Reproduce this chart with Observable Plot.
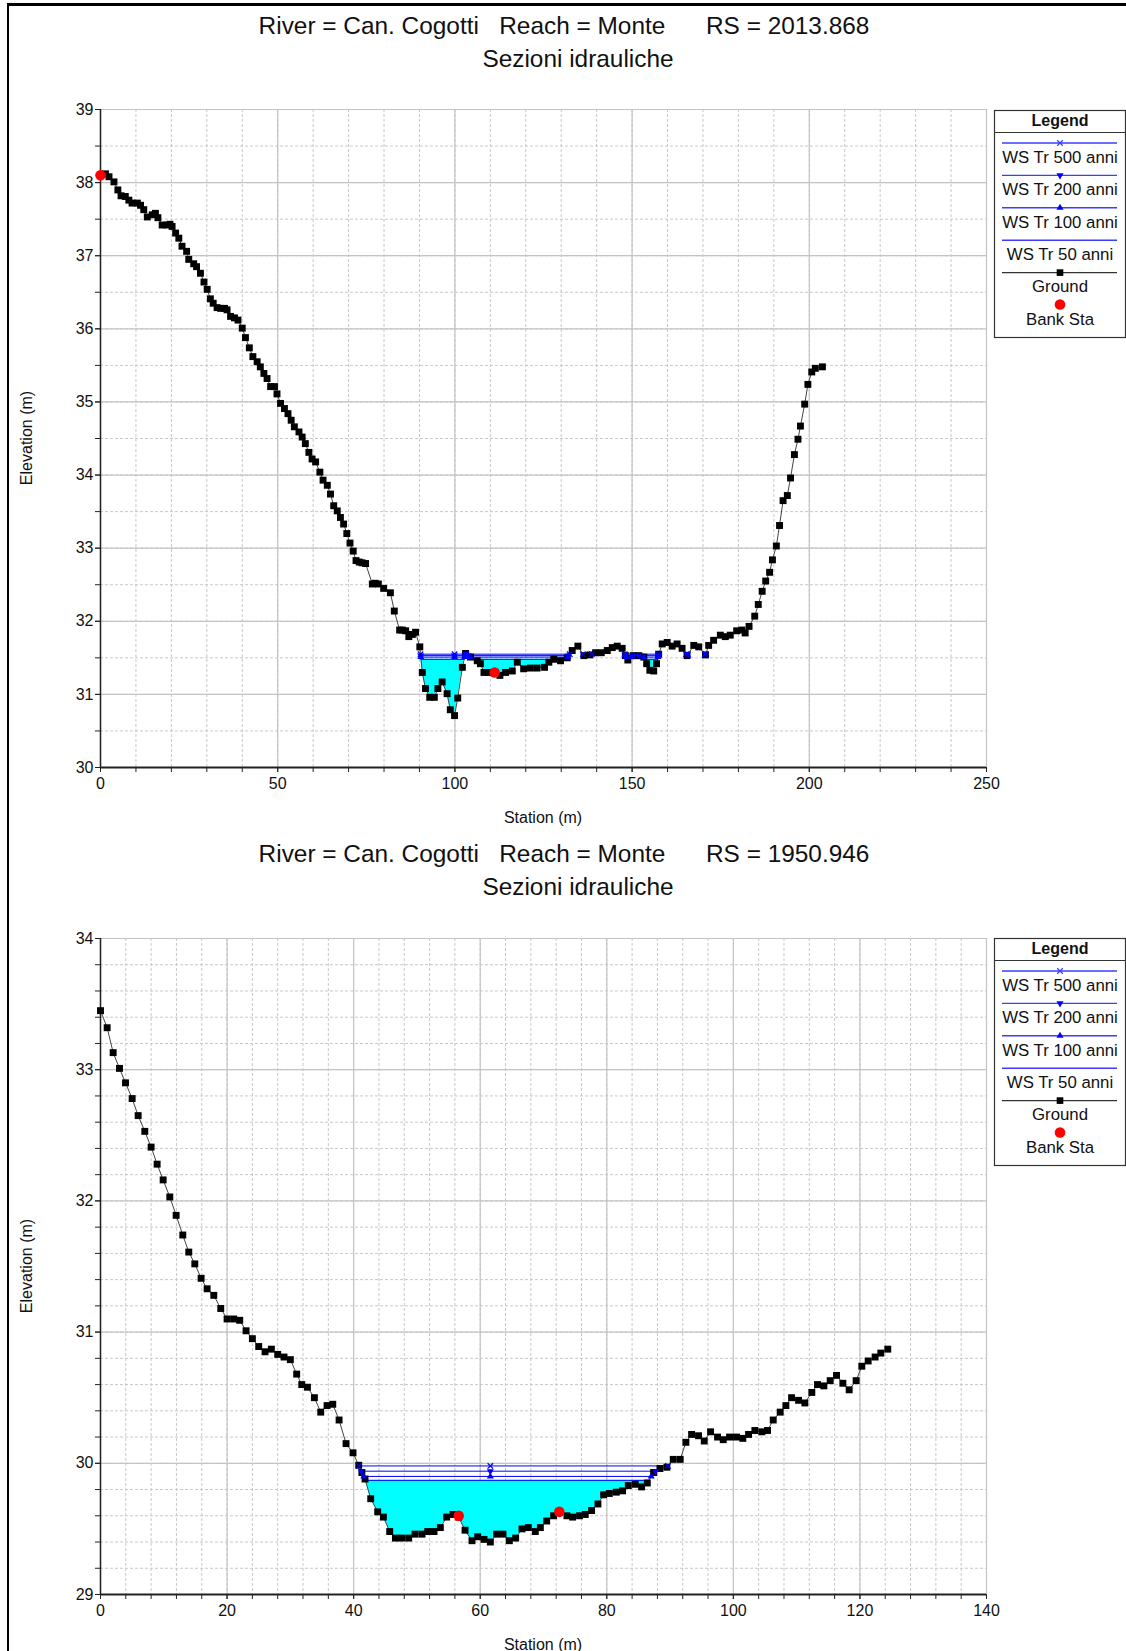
<!DOCTYPE html>
<html><head><meta charset="utf-8">
<script src="https://cdn.jsdelivr.net/npm/d3@7"></script>
<script src="https://cdn.jsdelivr.net/npm/@observablehq/plot@0.6"></script>
<style>
html,body{margin:0;padding:0;background:#fff;}
body{width:1126px;height:1651px;position:relative;overflow:hidden;font-family:"Liberation Sans",Arial,Helvetica,sans-serif;color:#111;}
.frame{position:absolute;left:7px;top:3px;width:1200px;height:1700px;border-left:2px solid #000;border-top:3px solid #000;}
.title{position:absolute;width:1200px;text-align:center;font-size:24.4px;line-height:24px;white-space:pre;color:#111;}
.xlab{position:absolute;left:443px;width:200px;text-align:center;font-size:16px;line-height:16px;white-space:pre;}
.ylab{position:absolute;width:200px;text-align:center;font-size:16px;line-height:16px;transform:rotate(-90deg);white-space:pre;}
svg{position:absolute;}
</style></head>
<body>
<div class="frame"></div>
<script>
// ---------- DATA ----------
const wsNames = ["WS Tr 500 anni", "WS Tr 200 anni", "WS Tr 100 anni", "WS Tr 50 anni"];
const legendNames = ["Ground", "Bank Sta"];

// Section RS 2013.868
const sta1 = [
  0,1.4,2.4,3.8,4.9,5.8,7.0,8.0,8.9,10.4,
  11.3,12.2,13.2,14.6,15.5,16.2,17.4,18.8,19.6,20.2,
  21.2,22.1,23.0,24.3,24.9,26.3,27.1,28.2,29.2,30.1,
  31.0,31.8,32.9,33.9,35.0,35.7,36.7,37.8,38.8,40.0,
  40.9,42.0,43.0,44.2,45.1,46.1,47.0,48.0,49.1,49.8,
  50.8,51.9,52.9,53.8,54.7,56.0,56.9,57.8,58.8,59.7,
  60.7,61.9,62.8,64.0,64.9,65.8,66.8,67.7,68.6,69.5,
  70.4,71.3,72.1,73.0,73.8,74.8,76.7,77.5,78.4,79.9,
  81.8,82.9,84.4,85.2,86.1,87.0,88.0,88.9,90.1,90.8,
  91.7,92.9,94.2,95.2,96.4,97.8,98.7,99.9,100.8,102.1,
  103.0,104.4,106.3,107.2,108.2,109.5,111.2,112.7,114.3,116.2,
  117.6,119.4,121.3,123.2,125.3,126.5,127.9,129.8,131.7,133.1,
  134.7,136.4,138.1,139.7,141.3,143.0,144.4,145.8,147.2,148.1,
  148.8,150.3,151.9,153.3,154.1,155.0,156.1,156.9,157.5,158.5,
  159.9,161.3,162.7,164.1,165.5,167.4,168.8,170.7,171.6,173.0,
  174.9,176.3,177.7,179.5,181.0,181.9,183.0,184.6,185.6,186.7,
  187.7,188.8,189.6,190.7,191.6,192.6,193.8,194.7,195.8,196.8,
  197.5,198.7,199.6,200.7,201.7,203.7
];
const elev1 = [
  38.10,38.12,38.08,38.01,37.90,37.82,37.81,37.76,37.72,37.72,
  37.69,37.63,37.53,37.56,37.58,37.52,37.42,37.42,37.43,37.40,
  37.31,37.24,37.13,37.06,36.95,36.89,36.85,36.76,36.64,36.54,
  36.41,36.35,36.29,36.28,36.28,36.26,36.17,36.15,36.12,36.01,
  35.88,35.74,35.62,35.55,35.48,35.39,35.32,35.21,35.21,35.11,
  34.98,34.91,34.84,34.75,34.66,34.59,34.52,34.43,34.31,34.22,
  34.18,34.04,33.93,33.86,33.74,33.58,33.51,33.42,33.33,33.20,
  33.07,32.96,32.83,32.81,32.80,32.79,32.51,32.52,32.51,32.45,
  32.39,32.14,31.88,31.88,31.87,31.79,31.82,31.85,31.65,31.30,
  31.08,30.96,30.96,31.08,31.17,31.01,30.79,30.71,30.95,31.37,
  31.56,31.51,31.46,31.42,31.30,31.30,31.30,31.26,31.30,31.32,
  31.44,31.35,31.36,31.36,31.37,31.44,31.48,31.46,31.50,31.60,
  31.66,31.53,31.54,31.57,31.57,31.60,31.64,31.66,31.63,31.53,
  31.47,31.53,31.53,31.51,31.42,31.33,31.32,31.42,31.55,31.69,
  31.71,31.66,31.69,31.63,31.53,31.67,31.65,31.54,31.67,31.74,
  31.81,31.79,31.81,31.87,31.88,31.84,31.93,32.07,32.23,32.41,
  32.55,32.67,32.84,33.03,33.31,33.65,33.72,33.96,34.28,34.49,
  34.67,34.97,35.24,35.41,35.46,35.48
];
const bankSta1 = [0, 111.2];
const bankElev1 = [38.10, 31.30];
const wsElev1 = [31.55, 31.53, 31.51, 31.48];
const xMajor1 = [0, 50, 100, 150, 200, 250];
const yMajor1 = [30, 31, 32, 33, 34, 35, 36, 37, 38, 39];

// Section RS 1950.946
const sta2 = [
  0,1.05,2.0,3.0,3.95,5.0,5.95,7.0,8.0,8.95,
  9.9,10.95,11.95,13.0,13.95,14.9,15.9,16.85,17.9,19.0,
  20.0,21.05,22.0,23.0,24.0,25.0,26.0,27.0,28.0,29.0,
  30.0,31.0,31.8,32.7,33.8,34.8,35.8,36.7,37.7,38.8,
  39.9,40.8,41.3,41.8,42.7,43.8,44.7,45.7,46.6,47.6,
  48.7,49.7,50.8,51.7,52.7,53.7,54.7,55.7,56.6,57.6,
  58.7,59.6,60.6,61.6,62.6,63.6,64.6,65.6,66.6,67.6,
  68.7,69.5,70.5,71.6,72.5,73.7,74.6,75.7,76.6,77.6,
  78.6,79.5,80.4,81.5,82.5,83.4,84.5,85.5,86.4,87.4,
  88.4,89.5,90.5,91.6,92.5,93.4,94.5,95.4,96.4,97.5,
  98.4,99.4,100.5,101.5,102.4,103.4,104.5,105.4,106.3,107.4,
  108.3,109.2,110.3,111.3,112.4,113.3,114.3,115.3,116.3,117.3,
  118.3,119.4,120.3,121.3,122.4,123.3,124.4
];
const elev2 = [
  33.45,33.32,33.13,33.01,32.90,32.78,32.65,32.53,32.41,32.28,
  32.16,32.03,31.89,31.74,31.61,31.52,31.41,31.33,31.28,31.18,
  31.10,31.10,31.09,31.01,30.95,30.89,30.85,30.87,30.83,30.81,
  30.79,30.68,30.60,30.58,30.50,30.39,30.44,30.45,30.33,30.15,
  30.08,29.985,29.93,29.88,29.73,29.63,29.59,29.48,29.43,29.43,
  29.43,29.46,29.46,29.48,29.48,29.51,29.59,29.61,29.59,29.49,
  29.41,29.44,29.42,29.40,29.46,29.46,29.41,29.43,29.50,29.51,
  29.48,29.51,29.56,29.60,29.63,29.60,29.59,29.60,29.61,29.64,
  29.69,29.76,29.77,29.78,29.79,29.83,29.84,29.82,29.85,29.93,
  29.96,29.97,30.03,30.03,30.16,30.22,30.21,30.17,30.24,30.20,
  30.18,30.20,30.20,30.19,30.22,30.25,30.24,30.25,30.33,30.39,
  30.44,30.50,30.48,30.46,30.54,30.60,30.59,30.63,30.67,30.61,
  30.56,30.63,30.74,30.78,30.81,30.84,30.87
];
const bankSta2 = [56.6, 72.5];
const bankElev2 = [29.60, 29.63];
const wsElev2 = [29.98, 29.94, 29.90, 29.87];
const xMajor2 = [0, 20, 40, 60, 80, 100, 120, 140];
const yMajor2 = [29, 30, 31, 32, 33, 34];

const titleLines1 = ["River = Can. Cogotti   Reach = Monte      RS = 2013.868", "Sezioni idrauliche"];
const titleLines2 = ["River = Can. Cogotti   Reach = Monte      RS = 1950.946", "Sezioni idrauliche"];
const xLabel = "Station (m)";
const yLabel = "Elevation (m)";

// ---------- HELPERS ----------
const FONT = '"Liberation Sans", Arial, Helvetica, sans-serif';
const WS_COLOR = "#0000ff";
const fmtInt = d3.format("d");

function wetSegments(sta, elev, level) {
  const segs = []; let cur = null;
  for (let i = 0; i < sta.length; i++) {
    const wet = elev[i] < level;
    if (i > 0) {
      const wetPrev = elev[i - 1] < level;
      if (wet !== wetPrev) {
        const t = (level - elev[i - 1]) / (elev[i] - elev[i - 1]);
        const xc = sta[i - 1] + t * (sta[i] - sta[i - 1]);
        if (wet) cur = [{x: xc, y: level}];
        else { cur.push({x: xc, y: level}); segs.push(cur); cur = null; }
      }
    }
    if (wet && cur) cur.push({x: sta[i], y: elev[i]});
  }
  return segs;
}

function addDiv(cls, text, top, extra) {
  const d = document.createElement("div");
  d.className = cls; d.textContent = text; d.style.top = top + "px";
  if (extra) Object.assign(d.style, extra);
  document.body.appendChild(d);
}

function buildChart(cfg) {
  const ground = cfg.sta.map((x, i) => ({x, y: cfg.elev[i]}));
  const bank = cfg.bankSta.map((x, i) => ({x, y: cfg.bankElev[i]}));
  const thalweg = cfg.sta[d3.minIndex(cfg.elev)];
  const low = cfg.ws[cfg.ws.length - 1];
  const fillData = [];
  wetSegments(cfg.sta, cfg.elev, low).forEach((seg, k) =>
    seg.forEach(p => fillData.push({x: p.x, g: p.y, w: low, seg: k})));
  const lineData = [], markData = [];
  cfg.ws.forEach((lev, j) => {
    wetSegments(cfg.sta, cfg.elev, lev).forEach((seg, k) => {
      const a = seg[0].x, b = seg[seg.length - 1].x, key = j + "-" + k;
      lineData.push({x: a, y: lev, key}, {x: b, y: lev, key});
      if (j < 3) {
        markData.push({x: a, y: lev, p: j}, {x: b, y: lev, p: j});
        if (thalweg > a && thalweg < b) markData.push({x: thalweg, y: lev, p: j});
      }
    });
  });
  const xMinor = d3.range(cfg.xDomain[0], cfg.xDomain[1] + 1e-9, cfg.xMinorStep);
  const yMinor = d3.range(cfg.yDomain[0], cfg.yDomain[1] + 1e-9, cfg.yMinorStep).map(v => +v.toFixed(3));

  const svg = Plot.plot({
    width: 1126, height: cfg.height,
    marginLeft: 100, marginRight: 140, marginTop: cfg.mt, marginBottom: cfg.mb,
    style: {fontSize: "16px", fontFamily: FONT, color: "#111", background: "transparent", overflow: "visible"},
    x: {domain: cfg.xDomain},
    y: {domain: cfg.yDomain},
    marks: [
      Plot.gridX({ticks: xMinor, stroke: "#c8c8c8", strokeOpacity: 1, strokeDasharray: "3,2"}),
      Plot.gridY({ticks: yMinor, stroke: "#c8c8c8", strokeOpacity: 1, strokeDasharray: "3,2"}),
      Plot.gridX({ticks: cfg.xMajor, stroke: "#c4c4c4", strokeOpacity: 1, strokeWidth: 1.2}),
      Plot.gridY({ticks: cfg.yMajor, stroke: "#c4c4c4", strokeOpacity: 1, strokeWidth: 1.2}),
      Plot.ruleX([cfg.xDomain[0]], {stroke: "#222", strokeWidth: 1.5}),
      Plot.ruleY([cfg.yDomain[0]], {stroke: "#222", strokeWidth: 2}),
      Plot.axisX({ticks: xMinor, tickSize: 5, tickFormat: () => "", label: null, color: "#222"}),
      Plot.axisY({ticks: yMinor, tickSize: 5, tickFormat: () => "", label: null, color: "#222"}),
      Plot.axisX({ticks: cfg.xMajor, tickSize: 5, tickPadding: 5, tickFormat: fmtInt, label: null, color: "#222", fill: "#111"}),
      Plot.axisY({ticks: cfg.yMajor, tickSize: 5, tickPadding: 2, tickFormat: fmtInt, label: null, color: "#222", fill: "#111"}),
      Plot.area(fillData, {x1: "x", y1: "g", y2: "w", z: "seg", fill: "#00ffff"}),
      Plot.line(ground, {x: "x", y: "y", stroke: "#444", strokeWidth: 1}),
      Plot.line(lineData, {x: "x", y: "y", z: "key", stroke: WS_COLOR, strokeWidth: 1}),
      Plot.dot(ground, {x: "x", y: "y", symbol: "square", r: 3.9, fill: "#000", stroke: "none"}),
      Plot.dot(markData.filter(d => d.p === 0), {x: "x", y: "y", symbol: "times", r: 2.6, stroke: WS_COLOR, strokeWidth: 1.3, fill: "none"}),
      Plot.dot(markData.filter(d => d.p === 1), {x: "x", y: "y", symbol: "triangle", rotate: 180, r: 2.6, fill: WS_COLOR, stroke: "none"}),
      Plot.dot(markData.filter(d => d.p === 2), {x: "x", y: "y", symbol: "triangle", r: 2.6, fill: WS_COLOR, stroke: "none"}),
      Plot.dot(bank, {x: "x", y: "y", r: 5.3, fill: "#ff0000", stroke: "none"})
    ]
  });
  d3.select(svg).selectAll("text").filter(function() { return this.textContent === ""; }).remove();
  svg.style.position = "absolute";
  svg.style.left = "0px";
  svg.style.top = cfg.top + "px";
  svg.style.maxWidth = "none";
  document.body.appendChild(svg);
}

function buildLegend(top) {
  const W = 131, H = 227;
  const svg = d3.create("svg").attr("width", W + 2).attr("height", H + 2)
    .style("position", "absolute").style("left", "994px").style("top", top + "px")
    .style("font-family", FONT).style("overflow", "visible");
  svg.append("rect").attr("x", 0.5).attr("y", 0.5).attr("width", W).attr("height", H)
    .attr("fill", "#fff").attr("stroke", "#333").attr("stroke-width", 1.2);
  svg.append("text").attr("x", W / 2 + 0.5).attr("y", 10.5).attr("text-anchor", "middle")
    .attr("dominant-baseline", "central").attr("font-size", 16).attr("font-weight", "bold")
    .attr("fill", "#111").text("Legend");
  svg.append("line").attr("x1", 0.5).attr("x2", W + 0.5).attr("y1", 22.5).attr("y2", 22.5)
    .attr("stroke", "#333").attr("stroke-width", 1.2);
  const names = wsNames.concat(legendNames);
  const cx = W / 2 + 0.5;
  names.forEach((name, i) => {
    const ly = 33 + 32.4 * i;
    if (i < 5) {
      svg.append("line").attr("x1", 8).attr("x2", 123).attr("y1", ly).attr("y2", ly)
        .attr("stroke", i < 4 ? "#3c3cff" : "#333").attr("stroke-width", 1.4);
    }
    if (i === 0) svg.append("path").attr("d", d3.symbol(d3.symbolTimes, 22)()).attr("transform", `translate(${cx},${ly})`).attr("stroke", "#3c3cff").attr("stroke-width", 1.2).attr("fill", "none");
    if (i === 1) svg.append("path").attr("d", d3.symbol(d3.symbolTriangle, 22)()).attr("transform", `translate(${cx},${ly}) rotate(180)`).attr("fill", "#0000ff");
    if (i === 2) svg.append("path").attr("d", d3.symbol(d3.symbolTriangle, 22)()).attr("transform", `translate(${cx},${ly})`).attr("fill", "#0000ff");
    if (i === 4) svg.append("path").attr("d", d3.symbol(d3.symbolSquare, 44)()).attr("transform", `translate(${cx},${ly})`).attr("fill", "#000");
    if (i === 5) svg.append("circle").attr("cx", cx).attr("cy", ly - 0.5).attr("r", 5.3).attr("fill", "#ff0000");
    svg.append("text").attr("x", cx).attr("y", ly + 14.3).attr("text-anchor", "middle")
      .attr("dominant-baseline", "central").attr("font-size", 16.8).attr("fill", "#111").text(name);
  });
  document.body.appendChild(svg.node());
}

// ---------- BUILD ----------
buildChart({sta: sta1, elev: elev1, bankSta: bankSta1, bankElev: bankElev1, ws: wsElev1,
  xDomain: [0, 250], yDomain: [30, 39], xMajor: xMajor1, yMajor: yMajor1, xMinorStep: 10, yMinorStep: 0.5,
  top: 90, height: 720, mt: 19, mb: 43});
buildChart({sta: sta2, elev: elev2, bankSta: bankSta2, bankElev: bankElev2, ws: wsElev2,
  xDomain: [0, 140], yDomain: [29, 34], xMajor: xMajor2, yMajor: yMajor2, xMinorStep: 4, yMinorStep: 0.2,
  top: 920, height: 700, mt: 18, mb: 26});
buildLegend(110);
buildLegend(938);

// line 1 centred at x≈564, line 2 centred at x≈578 (as in the original layout)
addDiv("title", titleLines1[0], 14, {left: "-36px"});
addDiv("title", titleLines1[1], 47, {left: "-22px"});
addDiv("title", titleLines2[0], 842, {left: "-36px"});
addDiv("title", titleLines2[1], 875, {left: "-22px"});
addDiv("xlab", xLabel, 810);
addDiv("xlab", xLabel, 1637);
addDiv("ylab", yLabel, 430, {left: "-73px"});
addDiv("ylab", yLabel, 1258, {left: "-73px"});
</script>
</body></html>
